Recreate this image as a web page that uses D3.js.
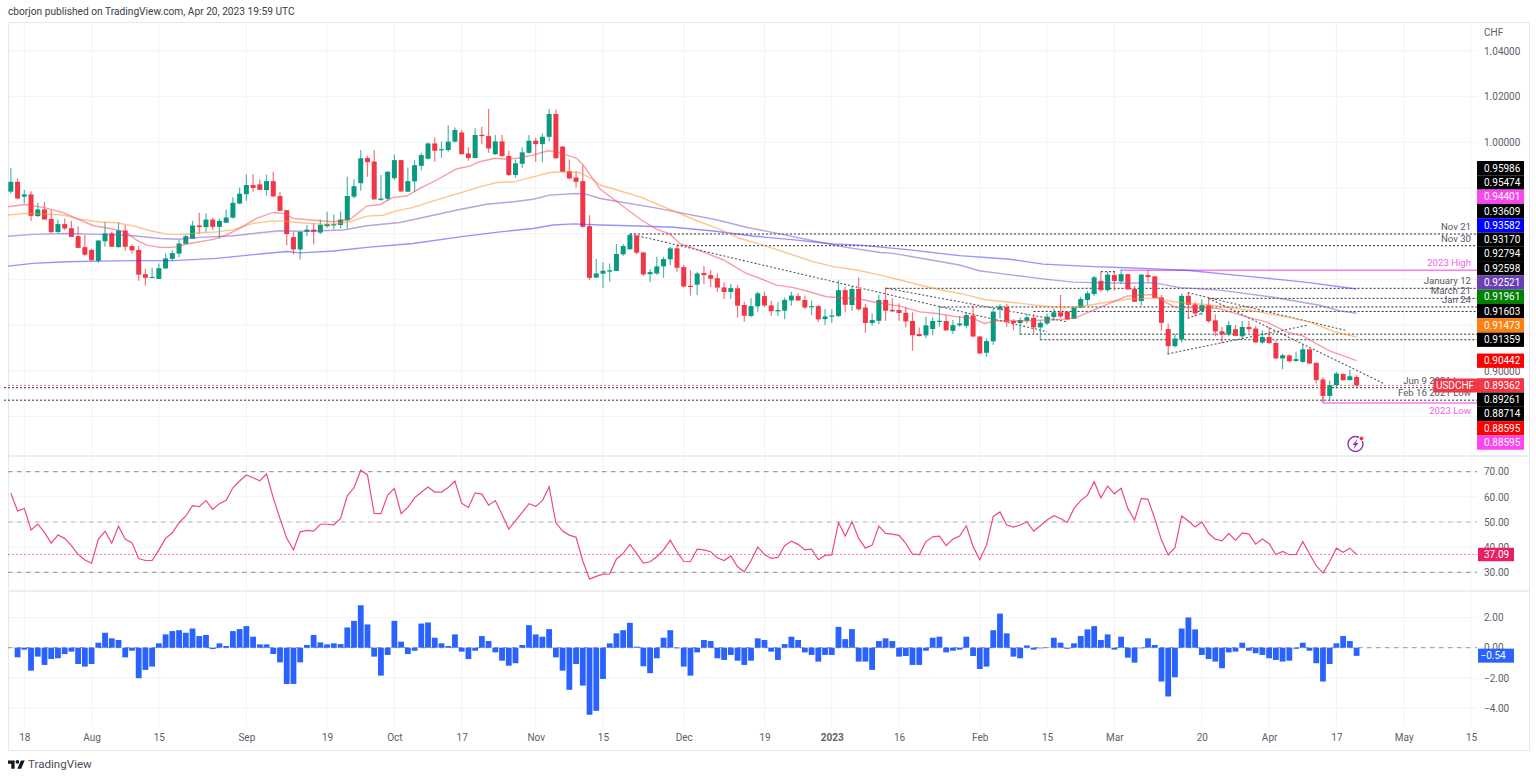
<!DOCTYPE html>
<html><head><meta charset="utf-8">
<script src="https://cdn.jsdelivr.net/npm/d3@7/dist/d3.min.js"></script>
<style>
html,body{margin:0;padding:0;background:#fff;overflow:hidden}
svg{display:block}
text{font-family:Roboto,"Noto Sans",sans-serif}
</style></head><body>
<svg id="c" width="1536" height="779"></svg>
<script>
// ---------- DATA ----------
const firstBar = -2; // bar index of first candle; index 0 = 18 Jul 2022
const highs = [
.9886,.9842,.9791,.9786,.9735,.9740,.9703,.9662,.9667,.9656,.9633,.9594,.9535,.9572,.9652,.9608,.9651,.9638,.9554,.9546,
.9445,.9451,.9470,.9513,.9528,.9572,.9598,.9656,.9692,.9689,.9671,.9667,.9706,.9759,.9802,.9859,.9861,.9838,.9858,.9871,
.9782,.9703,.9608,.9608,
.9638,.9645,.9662,.9696,.9684,.9697,.9849,.9838,.9966,.9941,.9966,.9857,.9874,.9947,.9922,.9890,.9922,.9954,.9998,1.0021,
1.0003,1.0073,1.0065,1.0054,.9978,1.0061,1.0068,1.0146,1.0032,1.0032,.9963,.9925,.9978,1.0032,1.0021,1.0039,1.0146,1.0144,
.9984,.9925,.9874,.9900,.9681,.9489,
.9475,.9470,.9555,.9555,.9599,.9594,.9521,.9445,.9499,.9499,.9543,.9546,.9463,.9441,.9434,.9459,.9441,.9426,.9386,.9380,
.9375,.9302,.9317,.9346,.9346,.9307,.9299,.9321,.9346,.9339,.9329,.9307,.9288,.9270,.9269,.9397,.9368,.9371,.9409,.9292,
.9251,.9332,.9365,.9317,.9295,.9280,.9256,.9190,.9237,.9234,.9280,.9244,.9222,.9240,.9256,.9288,.9152,.9142,.9273,.9291,
.9292,.9226,.9234,.9248,.9248,.9219,.9251,.9273,.9332,.9259,.9283,.9324,.9349,.9415,.9434,.9434,.9434,.9444,.9423,.9371,
.9423,.9441,.9415,
.9331,.9207,.9163,.9338,.9341,.9302,.9312,.9319,.9248,.9192,.9217,.9200,.9218,.9218,.9197,.9178,.9192,.9134,.9075,.9072,
.9083,.9115,.9097,.9036,.8973,.8956,.8995,.8988,.9005,.8980];
const lows = [
.9776,.9751,.9732,.9656,.9674,.9662,.9601,.9604,.9616,.9586,.9538,.9503,.9481,.9473,.9543,.9543,.9540,.9525,.9513,.9394,
.9373,.9407,.9402,.9446,.9481,.9497,.9554,.9578,.9601,.9608,.9616,.9579,.9648,.9667,.9729,.9744,.9784,.9791,.9766,.9762,
.9699,.9550,.9509,.9487,
.9589,.9554,.9598,.9626,.9619,.9623,.9623,.9754,.9788,.9849,.9750,.9743,.9743,.9835,.9782,.9782,.9782,.9878,.9925,.9915,
.9932,.9959,.9998,.9947,.9919,.9930,.9992,.9954,.9944,.9937,.9852,.9845,.9886,.9951,.9915,.9912,1.0003,.9930,
.9871,.9838,.9802,.9627,.9397,.9407,
.9361,.9390,.9437,.9502,.9529,.9510,.9415,.9388,.9419,.9407,.9463,.9434,.9365,.9329,.9332,.9380,.9368,.9346,.9314,.9314,
.9234,.9215,.9234,.9256,.9280,.9240,.9240,.9226,.9285,.9305,.9270,.9244,.9213,.9200,.9210,.9234,.9256,.9263,.9263,.9167,
.9197,.9204,.9219,.9256,.9219,.9190,.9088,.9150,.9142,.9156,.9193,.9175,.9161,.9193,.9186,.9146,.9073,.9061,.9113,.9229,
.9193,.9178,.9156,.9207,.9164,.9134,.9200,.9219,.9232,.9222,.9226,.9277,.9288,.9327,.9346,.9346,.9350,.9380,.9356,.9302,
.9285,.9387,.9318,
.9175,.9071,.9102,.9124,.9229,.9236,.9243,.9210,.9151,.9119,.9151,.9151,.9141,.9166,.9124,.9119,.9119,.9051,.9007,.9036,
.9039,.9035,.9029,.8944,.8860,.8867,.8922,.8956,.8959,.8922];
const opens = [
.9784,.9827,.9762,.9772,.9677,.9706,.9665,.9607,.9642,.9624,.9589,.9541,.9529,.9481,.9567,.9602,.9541,.9614,.9546,.9529,
.9423,.9407,.9402,.9448,.9490,.9513,.9556,.9578,.9636,.9629,.9662,.9630,.9648,.9670,.9732,.9773,.9813,.9816,.9791,.9830,
.9765,.9703,.9585,.9531,
.9608,.9618,.9605,.9633,.9636,.9638,.9659,.9762,.9821,.9931,.9916,.9748,.9753,.9843,.9922,.9784,.9829,.9897,.9928,.9995,
.9966,.9966,1.0003,1.0043,.9951,.9931,1.0033,1.0027,.9948,1.0004,.9940,.9857,.9906,.9954,1.0007,.9992,1.0024,1.0124,
.9981,.9874,.9846,.9830,.9633,.9408,
.9425,.9434,.9437,.9510,.9532,.9591,.9518,.9423,.9426,.9457,.9488,.9536,.9454,.9372,.9377,.9428,.9419,.9405,.9365,.9345,
.9361,.9288,.9240,.9282,.9327,.9286,.9260,.9263,.9308,.9327,.9310,.9279,.9283,.9226,.9237,.9240,.9353,.9288,.9358,.9277,
.9209,.9219,.9310,.9267,.9266,.9254,.9218,.9161,.9155,.9183,.9215,.9218,.9175,.9199,.9197,.9242,.9150,.9079,.9129,.9269,
.9279,.9218,.9209,.9219,.9232,.9190,.9207,.9235,.9256,.9259,.9228,.9276,.9310,.9336,.9394,.9353,.9419,.9391,.9423,.9358,
.9305,.9419,.9413,
.9321,.9183,.9108,.9137,.9328,.9291,.9262,.9287,.9221,.9173,.9159,.9182,.9151,.9192,.9185,.9124,.9148,.9122,.9054,.9067,
.9043,.9039,.9094,.9035,.8962,.8890,.8937,.8986,.8959,.8973];
const closes = [
.9827,.9754,.9772,.9678,.9706,.9662,.9607,.9642,.9623,.9586,.9538,.9508,.9484,.9570,.9602,.9543,.9614,.9543,.9527,.9421,
.9407,.9411,.9449,.9492,.9515,.9557,.9589,.9636,.9629,.9662,.9630,.9656,.9671,.9735,.9775,.9813,.9800,.9792,.9830,.9763,
.9700,.9598,.9531,.9608,
.9618,.9608,.9639,.9642,.9642,.9662,.9765,.9808,.9930,.9913,.9750,.9754,.9871,.9922,.9785,.9830,.9900,.9944,.9995,.9963,
.9970,1.0003,1.0054,.9948,.9931,1.0032,1.0027,.9973,1.0004,.9940,.9857,.9908,.9956,1.0007,.9992,1.0024,1.0124,.9930,
.9871,.9842,.9827,.9630,.9407,.9426,
.9438,.9440,.9511,.9546,.9594,.9517,.9422,.9432,.9457,.9489,.9536,.9451,.9369,.9367,.9426,.9419,.9403,.9364,.9345,.9362,
.9285,.9241,.9283,.9339,.9286,.9261,.9266,.9310,.9329,.9308,.9277,.9283,.9225,.9238,.9242,.9353,.9289,.9358,.9269,.9209,
.9222,.9310,.9263,.9260,.9253,.9216,.9156,.9152,.9199,.9218,.9219,.9177,.9200,.9207,.9244,.9150,.9076,.9130,.9259,.9282,
.9215,.9209,.9222,.9234,.9190,.9210,.9237,.9256,.9238,.9225,.9277,.9314,.9339,.9409,.9353,.9421,.9393,.9423,.9356,.9302,
.9421,.9410,.9318,
.9210,.9108,.9141,.9328,.9289,.9251,.9287,.9217,.9172,.9159,.9200,.9153,.9192,.9182,.9124,.9148,.9121,.9054,.9068,.9042,
.9051,.9094,.9032,.8959,.8890,.8937,.8988,.8959,.8976,.89362];

const emaFastIdx = [-2.4,0,2.8,5.8,8.3,10.3,12.7,15,16.7,18.2,20.2,22.1,24.6,28.1,30,32,34.5,37,38.5,40,43,46,48.4,50.9,52.9,54.8,56.8,58.8,61.3,64.2,66.2,67.7,69.9,71.2,73.2,75.6,77.8,79,80.6,82.1,83.1,84.3,85.6,91.7,94,95.9,97.4,100.4,103.9,107.3,109.3,111.8,114.3,116.7,119.2,121.2,124.2,126.6,130.1,133.1,135.6,138.5,141,142.7,144.5,149,152,154.9,156.4,158.9,161.8,163.8,165.8,167.8,169,171.2,174.2,177.7,181.6,184.6,187.6,190,192,194,198];
const emaFastVal = [.9718,.9728,.9715,.9692,.9659,.9635,.9623,.9608,.9572,.9550,.9540,.9540,.9557,.9575,.9594,.9623,.9667,.9693,.9689,.9667,.9659,.9652,.9662,.9721,.9728,.9759,.9765,.9798,.9835,.9883,.9896,.9915,.9930,.9927,.9930,.9944,.9963,.9959,.9944,.9930,.9900,.9849,.9794,.9660,.9619,.9599,.9558,.9526,.9485,.9426,.9405,.9375,.9364,.9346,.9324,.9320,.9314,.9299,.9283,.9258,.9251,.9237,.9229,.9207,.9219,.9219,.9222,.9226,.9234,.9266,.9302,.9327,.9331,.9334,.9309,.9277,.9277,.9272,.9236,.9214,.9170,.9153,.9119,.9087,.90442];

const emaMidIdx = [-2.4,0,2.8,5.8,8.3,11.2,13.7,16.2,18.7,21.1,23.6,26.1,28.6,31.1,34,36.9,38.4,41,44,46,48.4,50.9,53.3,55.3,57.8,60.8,64.2,67.7,70.2,72.7,75.6,78.1,80.6,82.6,84.6,85.6,91.5,99.7,103.4,106.3,109.8,112.3,117.2,120.2,123.7,127.2,130.6,134.1,137.1,140,143,146,149,152.4,155.9,158.9,161.3,163.8,165.8,168.2,170.7,176.7,182.6,187.5,191,194.5,198];
const emaMidVal = [.9682,.9689,.9686,.9682,.9663,.9651,.9648,.9634,.9613,.9598,.9597,.9604,.9608,.9618,.9645,.9656,.9655,.9648,.9642,.9642,.9652,.9677,.9681,.9700,.9715,.9744,.9773,.9805,.9824,.9827,.9849,.9868,.9871,.9867,.9835,.9813,.9761,.9660,.9619,.9580,.9550,.9526,.9478,.9456,.9441,.9419,.9394,.9368,.9349,.9332,.9310,.9302,.9292,.9280,.9277,.9290,.9302,.9313,.9316,.9319,.9302,.9287,.9262,.9236,.9214,.9173,.91473];

const emaSlowIdx = [-2.4,1.3,6.3,11.2,16.2,20.2,23,26.1,31.1,35,38,41,44,47.4,50.9,55.8,60.8,64.7,68.7,72.7,75.6,78.1,82.1,83.6,85.6,94,103,107.3,112.3,117.2,122.2,127.2,129.1,134.1,139,141.9,146,152,155.9,158.9,163.8,167.8,171.7,177.7,185.1,192.5,195.5,198];
const emaSlowVal = [.9589,.9597,.9601,.9597,.9591,.9579,.9576,.9584,.9591,.9604,.9613,.9611,.9613,.9616,.9635,.9649,.9681,.9706,.9729,.9740,.9751,.9769,.9776,.9772,.9754,.9712,.9660,.9628,.9599,.9569,.9540,.9518,.9514,.9488,.9463,.9438,.9422,.9400,.9388,.9386,.9383,.9386,.9364,.9353,.9324,.9287,.9262,.92521];

const emaLongIdx = [-2.4,1.3,6.3,11.2,16.2,22.1,28.6,35,39,41,46,50.9,57.8,64.7,70.7,75.6,78.6,81.6,85.6,90,96.5,102.4,108.3,114.8,120.2,124.2,131.6,139,146.5,151.4,158.9,163.8,168.8,172.7,182.6,190,198];
const emaLongVal = [.9458,.9470,.9477,.9480,.9482,.9482,.9492,.9511,.9522,.9516,.9524,.9540,.9557,.9586,.9608,.9623,.9638,.9643,.9638,.9635,.9628,.9612,.9590,.9572,.9555,.9550,.9529,.9504,.9488,.9467,.9456,.9451,.9445,.9440,.9411,.9389,.93582];

const levelPrices = [.95986,.95474,.94401,.93609,.93170,.92794,.92598,.91603,.91359,.89261,.88714,.88595];
const levelStarts = [90,97,163,128,176,136,150,148,151,-3,-3,193];
const levelNames  = ["Nov 21","Nov 30","2023 High","January 12","March 21","Jan 24","","","","Jun 9 2021 Low","Feb 16 2021 Low","2023 Low"];
const levelKinds  = ["dot","dot","pink","dot","dot","dot","dot","dot","dot","dot","dot","pink"];

const trendFromIdx = [90,128.2,160,172.9,176,169.9,172.9];
const trendFromVal = [.9599,.9361,.9434,.9342,.9317,.9074,.9230];
const trendToIdx   = [152,154.9,162.1,196.5,202,190.8,175];
const trendToVal   = [.9171,.9215,.9434,.9176,.8945,.9200,.9252];

const tagPrices = [.95986,.95474,.94401,.93609,.93582,.93170,.92794,.92598,.92521,.91961,.91603,.91473,.91359,.90442,.89362,.89261,.88714,.88595,.88595];
const tagFills  = ["#000","#000","#fb45f0","#000","#0000ff","#000","#000","#000","#6a3fb5","#008000","#000","#ff8010","#000","#ff0000","#f23645","#000","#000","#ff0000","#fb45f0"];
const lastPrice = .89362;

const rsiValues = [
61.4,54.4,55.4,46.8,49.2,45.9,41.6,44.8,43.5,40.6,37.1,34.9,33.6,43.1,46.3,41.6,48.3,43.1,41.8,35.5,
34.7,34.7,38.9,43.5,45.7,49.7,52.4,56.5,56.1,58.5,55.0,57.3,58.6,63.6,66.3,68.7,67.6,66.4,69.1,59.6,
51.4,43.5,38.9,46.1,46.7,46.4,49.1,49.1,48.9,51.4,60.4,63.6,70.6,68.7,53.4,53.3,60.7,63.4,53.3,55.8,
59.6,61.8,63.9,61.9,61.9,63.7,66.3,57.4,55.8,61.6,61.1,56.7,58.5,53.0,47.2,50.5,53.8,57.3,56.2,58.5,
64.0,49.7,46.4,44.8,43.9,34.5,27.3,28.4,29.3,29.4,35.3,37.5,41.1,37.5,33.7,34.2,36.2,38.9,42.8,38.2,
34.3,34.2,39.2,38.9,38.2,35.8,34.7,36.5,32.2,30.2,34.6,40.0,37.1,35.5,35.9,40.6,42.4,41.1,38.9,39.2,
35.0,36.7,36.9,49.8,44.4,50.2,43.5,39.6,40.8,48.4,45.5,45.2,44.7,41.5,37.2,37.0,42.2,44.1,44.4,40.6,
43.2,44.4,48.5,40.2,35.0,40.8,52.2,54.0,48.8,48.0,48.8,50.1,46.4,48.5,50.8,52.5,51.4,49.8,55.4,58.5,
60.7,66.0,59.6,64.3,61.2,63.4,55.4,50.8,59.4,59.0,51.4,42.8,36.9,39.8,52.4,50.4,48.0,50.0,45.5,43.2,
42.5,45.5,42.7,45.7,45.2,41.2,43.2,41.4,37.1,38.3,37.0,37.1,42.2,37.4,32.6,29.7,34.2,39.6,38.0,39.6,37.09];
const rsiLevels = [70,50,30];
const rsiTicks = [70,60,50,40,30];

const histStart = -1;
const histValues = [
-.64,-.13,-1.52,-.59,-1.14,-.75,-.70,-.42,-.26,-1.08,-1.25,-1.08,.33,.99,.62,.51,-.64,-.20,-2.02,-1.47,
-1.25,.29,.88,1.10,1.16,.99,1.27,.77,.84,-.09,.29,.11,1.10,1.23,1.43,.73,.22,.22,-.42,-.97,
-2.40,-2.40,-.97,.18,.84,.35,.22,.29,.24,1.34,1.78,2.81,1.54,-.59,-1.85,-.48,1.78,.40,-.42,-.20,
1.60,1.67,.66,.29,.11,.88,-.26,-.75,-.20,.77,.44,-.31,-.86,-1.19,-1.03,.18,1.49,.88,.73,1.23,
-.64,-1.52,-2.79,-1.08,-2.51,-4.44,-4.18,-2.07,.29,.95,1.16,1.65,.07,-1.23,-1.69,-.70,.66,1.16,-.04,-1.25,
-1.85,-.31,.51,.44,-.70,-.81,-.48,-.86,-1.14,-.86,.62,.51,-.26,-.81,.24,.73,.51,-.31,-.48,-.92,
-.48,-.48,1.38,.57,1.23,-.92,-.92,-1.47,.44,.62,.44,-.59,-.55,-1.14,-1.14,-.20,.66,.73,-.31,-.20,
-.13,.73,-.55,-1.41,-1.25,1.16,2.26,.95,-.59,-.70,.15,-.13,-.04,.02,.66,.33,-.07,.29,.77,1.21,
1.43,.51,.88,-.13,.73,-.66,-.99,-.04,.62,.18,-2.24,-3.23,-1.96,1.27,2.00,1.21,-.48,-.75,-.92,-1.36,
-.31,-.26,.33,-.20,-.37,-.48,-.70,-.81,-.92,-.86,-.07,.33,-.20,-1.03,-2.24,-1.08,.29,.77,.44,-.54];
const histTicks = [2,0,-2,-4];

const timeTickIdx = [0,10,20,33,45,55,65,76,86,98,110,120,130,142,152,162,175,185,195,205,215];
const timeTickLabels = ["18","Aug","15","Sep","19","Oct","17","Nov","15","Dec","19","2023","16","Feb","15","Mar","20","Apr","17","May","15"];
const priceGrid = [1.04,1.02,1.00,.98,.96,.94,.92,.90,.88];
const priceTicks = [1.04,1.02,1.00,.90];

// ---------- LAYOUT ----------
const left=8,paneRight=1477,outerRight=1529,top0=22,sep1=456,sep2=591,paneBottom=727,outerBottom=750;
const GREEN="#089981",RED="#f23645",GRID="#f1f3f7",BORDER="#e6e8f0",AX="#5d606b";
const FS=10, LFS=9.6, FF='Roboto,"Noto Sans",sans-serif', DOT="2 2";

const x=d3.scaleLinear().domain([0,215]).range([24.3,1471]);
const yP=d3.scaleLinear().domain([1,.9]).range([142.3,370.8]);
const yR=d3.scaleLinear().domain([70,30]).range([471.7,572.3]);
const yH=d3.scaleLinear().domain([2,0]).range([617.5,647.7]);

const svg=d3.select("#c");
svg.append("rect").attr("width",1536).attr("height",779).attr("fill","#fff");

// grid
const grid=svg.append("g").attr("stroke",GRID).attr("stroke-width",1);
timeTickIdx.forEach(i=>grid.append("line").attr("x1",x(i)).attr("x2",x(i)).attr("y1",top0).attr("y2",paneBottom));
priceGrid.forEach(p=>grid.append("line").attr("x1",left).attr("x2",paneRight).attr("y1",yP(p)).attr("y2",yP(p)));
rsiTicks.forEach(p=>grid.append("line").attr("x1",left).attr("x2",paneRight).attr("y1",yR(p)).attr("y2",yR(p)));
histTicks.forEach(p=>grid.append("line").attr("x1",left).attr("x2",paneRight).attr("y1",yH(p)).attr("y2",yH(p)));

// frame
const fr=svg.append("g").attr("stroke",BORDER).attr("fill","none");
fr.append("rect").attr("x",left+.5).attr("y",top0+.5).attr("width",outerRight-left).attr("height",outerBottom-top0);
fr.append("line").attr("x1",left).attr("x2",outerRight).attr("y1",sep1).attr("y2",sep1).attr("stroke-width",1.5);
fr.append("line").attr("x1",left).attr("x2",outerRight).attr("y1",sep2).attr("y2",sep2).attr("stroke-width",1.5);

// axes
function styleAxis(g){g.select(".domain").remove();g.selectAll("line").remove();
  g.selectAll("text").attr("fill",AX).attr("font-size",FS).attr("font-family",FF);}
svg.append("g").attr("transform",`translate(${paneRight+7},0)`)
  .call(d3.axisRight(yP).tickValues(priceTicks).tickFormat(d3.format(".5f")).tickSize(0).tickPadding(0)).call(styleAxis);
svg.append("g").attr("transform",`translate(${paneRight+7},0)`)
  .call(d3.axisRight(yR).tickValues(rsiTicks).tickFormat(d3.format(".2f")).tickSize(0).tickPadding(0)).call(styleAxis);
svg.append("g").attr("transform",`translate(${paneRight+7},0)`)
  .call(d3.axisRight(yH).tickValues(histTicks).tickFormat(d=>(d<0?"\u2212":"")+Math.abs(d).toFixed(2)).tickSize(0).tickPadding(0)).call(styleAxis);
svg.append("g").attr("transform",`translate(0,${paneBottom+7})`)
  .call(d3.axisBottom(x).tickValues(timeTickIdx).tickFormat((d,i)=>timeTickLabels[i]).tickSize(0).tickPadding(0)).call(styleAxis)
  .selectAll("text").attr("font-weight",(d,i)=>timeTickLabels[i]==="2023"?"700":"400");

svg.append("text").attr("x",1484).attr("y",36).attr("fill",AX).attr("font-size",FS).text("CHF");

// price lines behind candles
const levels=levelPrices.map((p,i)=>({p,s:levelStarts[i],n:levelNames[i],k:levelKinds[i]}));
levels.forEach(l=>{
  const ln=svg.append("line").attr("x1",x(l.s)).attr("x2",paneRight).attr("y1",yP(l.p)).attr("y2",yP(l.p));
  if(l.k==="pink") ln.attr("stroke","#f77eee").attr("stroke-width",1.5);
  else ln.attr("stroke","#2a2a30").attr("stroke-width",1).attr("stroke-dasharray",DOT);
});
svg.append("line").attr("x1",left).attr("x2",paneRight).attr("y1",yP(lastPrice)).attr("y2",yP(lastPrice))
  .attr("stroke",RED).attr("stroke-width",1).attr("stroke-dasharray",DOT).attr("opacity",.7);
// 2023 low stem
svg.append("line").attr("x1",x(193)).attr("x2",x(193)).attr("y1",yP(lows[193-firstBar])-6).attr("y2",yP(.88595))
  .attr("stroke","#f26ae8").attr("stroke-width",1.2);

// trendlines
trendFromIdx.forEach((f,i)=>svg.append("line")
  .attr("x1",x(f)).attr("y1",yP(trendFromVal[i])).attr("x2",x(trendToIdx[i])).attr("y2",yP(trendToVal[i]))
  .attr("stroke","#555860").attr("stroke-width",1.1).attr("stroke-dasharray",DOT));

// candles
const bars=d3.range(highs.length).map(k=>({i:k+firstBar,h:highs[k],l:lows[k],o:opens[k],c:closes[k]}));
const cg=svg.append("g");
cg.selectAll(".w").data(bars).join("line").attr("class","w")
  .attr("x1",d=>x(d.i)).attr("x2",d=>x(d.i)).attr("y1",d=>yP(d.h)).attr("y2",d=>yP(d.l))
  .attr("stroke",d=>d.c>=d.o?GREEN:RED).attr("stroke-width",1.2).attr("opacity",.7);
cg.selectAll(".b").data(bars).join("rect").attr("class","b")
  .attr("x",d=>x(d.i)-2.5).attr("width",5)
  .attr("y",d=>yP(Math.max(d.o,d.c))).attr("height",d=>Math.max(1.2,Math.abs(yP(d.o)-yP(d.c))))
  .attr("fill",d=>d.c>=d.o?GREEN:RED);

// moving averages
const lineGen=d3.line().x(d=>x(d[0])).y(d=>yP(d[1]));
[[emaLongIdx,emaLongVal,"#3d3dff"],[emaSlowIdx,emaSlowVal,"#7e57c2"],[emaMidIdx,emaMidVal,"#ff9430"],[emaFastIdx,emaFastVal,"#f9485a"]]
.forEach(([a,b,c])=>svg.append("path").datum(a.map((v,i)=>[v,b[i]])).attr("d",lineGen)
  .attr("fill","none").attr("stroke",c).attr("stroke-width",1.4).attr("opacity",.55));

// level labels
levels.filter(l=>l.n).forEach(l=>{
  svg.append("text").attr("x",paneRight-6).attr("y",yP(l.p)+(l.n==="2023 Low"?8:-7.5)).attr("dy",".35em")
    .attr("text-anchor","end").attr("font-size",LFS).attr("fill",l.k==="pink"?"#f65ee9":"#55585f").text(l.n);
});

// stacked price tags (layout derived from the price scale)
const tagH=14.3, anchor=tagPrices.indexOf(lastPrice), tagY=tagPrices.map(p=>yP(p));
for(let k=anchor-1;k>=0;k--) tagY[k]=Math.min(tagY[k],tagY[k+1]-tagH);
for(let k=anchor+1;k<tagY.length;k++) tagY[k]=Math.max(tagY[k],tagY[k-1]+tagH);
tagPrices.forEach((p,k)=>{
  svg.append("rect").attr("x",paneRight).attr("y",tagY[k]-tagH/2).attr("width",47).attr("height",tagH).attr("fill",tagFills[k]);
  svg.append("text").attr("x",paneRight+7).attr("y",tagY[k]).attr("dy",".35em").attr("font-size",FS).attr("fill","#fff").text(p.toFixed(5));
});
svg.append("rect").attr("x",1433.5).attr("y",yP(lastPrice)-7).attr("width",43.5).attr("height",14).attr("fill",RED).attr("rx",1);
svg.append("text").attr("x",1455).attr("y",yP(lastPrice)).attr("dy",".35em").attr("text-anchor","middle").attr("font-size",FS).attr("fill","#fff").text("USDCHF");

// lightning icon
const ic=svg.append("g").attr("transform","translate(1355.5,444)");
ic.append("circle").attr("r",7.5).attr("fill","#fff").attr("stroke","#8e35b5").attr("stroke-width",1.4);
ic.append("path").attr("d","M2,-5 L-3,1 L-0.5,1 L-2,5 L3,-1 L0.5,-1 Z").attr("fill","#8e35b5");
ic.append("circle").attr("cx",6).attr("cy",-5.5).attr("r",2.4).attr("fill","#f23645").attr("stroke","#fff");

// RSI pane
rsiLevels.forEach(v=>svg.append("line").attr("x1",left).attr("x2",paneRight).attr("y1",yR(v)).attr("y2",yR(v))
  .attr("stroke",v===50?"#b2b5be":"#8a8d96").attr("stroke-width",1).attr("stroke-dasharray","4.5 4.5"));
const rsiLast=rsiValues[rsiValues.length-1];
svg.append("line").attr("x1",left).attr("x2",paneRight).attr("y1",yR(rsiLast)).attr("y2",yR(rsiLast))
  .attr("stroke","#ea4a7d").attr("stroke-width",1).attr("stroke-dasharray",DOT).attr("opacity",.7);
svg.append("path").datum(rsiValues).attr("fill","none").attr("stroke","#ef4a80").attr("stroke-width",1.2)
  .attr("d",d3.line().x((d,i)=>x(i+firstBar)).y(d=>yR(d)));
svg.append("rect").attr("x",paneRight+1).attr("y",yR(rsiLast)-6.7).attr("width",36).attr("height",13.5).attr("fill","#e91e63");
svg.append("text").attr("x",paneRight+7).attr("y",yR(rsiLast)).attr("dy",".35em").attr("font-size",FS).attr("fill","#fff").text(rsiLast.toFixed(2));

// histogram pane
svg.append("line").attr("x1",left).attr("x2",paneRight).attr("y1",yH(0)).attr("y2",yH(0))
  .attr("stroke","#9598a1").attr("stroke-width",1).attr("stroke-dasharray","4.5 4.5");
svg.append("g").selectAll("rect").data(histValues).join("rect")
  .attr("x",(d,i)=>x(i+histStart)-2.9).attr("width",5.8)
  .attr("y",d=>yH(Math.max(d,0))).attr("height",d=>Math.abs(yH(d)-yH(0)))
  .attr("fill","#2962ff");
const histLast=histValues[histValues.length-1];
svg.append("rect").attr("x",paneRight+1).attr("y",yH(histLast)-7.2).attr("width",36).attr("height",14).attr("fill","#2962ff");
svg.append("text").attr("x",paneRight+3.5).attr("y",yH(histLast)).attr("dy",".35em").attr("font-size",FS).attr("fill","#fff").text("\u22120.54");

// header and logo
svg.append("text").attr("x",8).attr("y",15).attr("font-size",10.2).attr("fill","#3a3d46").text("cborjon published on TradingView.com, Apr 20, 2023 19:59 UTC");
const logo=svg.append("g").attr("transform","translate(8,758.5) scale(.47)").attr("fill","#131722");
logo.append("path").attr("d","M14 22H7V11H0V4h14v18zM28 22h-8l7.5-18h8L28 22z");
logo.append("circle").attr("cx",20).attr("cy",7).attr("r",4);
svg.append("text").attr("x",28).attr("y",768).attr("font-size",11.6).attr("fill","#4a4d57").text("TradingView");
</script>
</body></html>
